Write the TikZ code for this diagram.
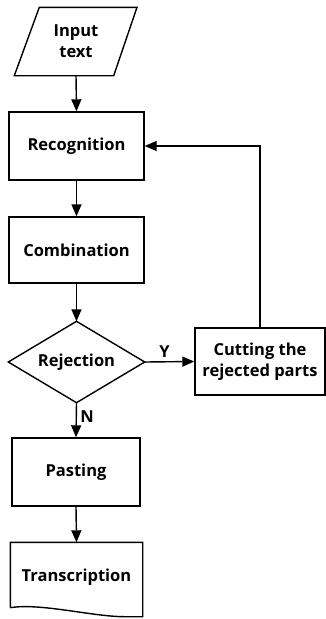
\documentclass[tikz,border=0pt]{standalone}
\usepackage{fontspec}
\setmainfont{Open Sans}
\usetikzlibrary{arrows.meta}
\begin{document}
\begin{tikzpicture}[x=1pt,y=-1pt,
  line width=1.4pt,
  box/.style={draw,rectangle,inner sep=0pt,align=center,font=\bfseries\fontsize{16.5}{21}\selectfont},
  ghost/.style={rectangle,inner sep=0pt,align=center,font=\bfseries\fontsize{16.5}{21}\selectfont},
  arr/.style={-{Triangle[length=12pt,width=10pt]}},
  lab/.style={font=\bfseries\fontsize{16.5}{18}\selectfont}]
\useasboundingbox (0,0) rectangle (326,619);
% input
\node[ghost,minimum width=122pt,minimum height=67pt] (in) at (76,41.5) {Input\\text};
\draw ([xshift=25pt]in.north west) -- ([xshift=61pt]in.north) -- ([xshift=-24pt]in.south east) -- (in.south west) -- cycle;
\node[box,minimum width=135pt,minimum height=68pt] (rec) at (76.5,146) {Recognition};
\node[box,minimum width=135pt,minimum height=66pt] (com) at (76.5,250) {Combination};
\node[ghost,minimum width=135pt,minimum height=80pt] (rej) at (76.5,362) {Rejection};
\draw (rej.north) -- (rej.east) -- (rej.south) -- (rej.west) -- cycle;
\node[box,minimum width=130pt,minimum height=67pt] (cut) at (260,361.5) {Cutting the\\rejected parts};
\node[box,minimum width=128pt,minimum height=68pt] (pas) at (76,472) {Pasting};
\node[ghost,minimum width=131pt,minimum height=69pt] (tra) at (76.5,577.5) {Transcription};
\draw ([yshift=5pt]tra.south west) -- (tra.north west) -- (tra.north east) -- ([yshift=-4pt]tra.south east)
  -- ([xshift=-18pt,yshift=-4pt]tra.south east)
  .. controls ([xshift=-50pt,yshift=-4pt]tra.south east) and ([xshift=30pt,yshift=10pt]tra.south west) .. ([yshift=5pt]tra.south west);
% connectors
\draw[arr] (in.south) -- (rec.north);
\draw[arr] (rec.south) -- (com.north);
\draw[arr] (com.south) -- (rej.north);
\draw[arr] (rej.east) -- node[lab,above,pos=0.4] {Y} (cut.west);
\draw[arr] (rej.south) -- node[lab,right,pos=0.4] {N} (pas.north);
\draw[arr] (pas.south) -- (tra.north);
\draw[arr] (cut.north) |- (rec.east);
\end{tikzpicture}
\end{document}
